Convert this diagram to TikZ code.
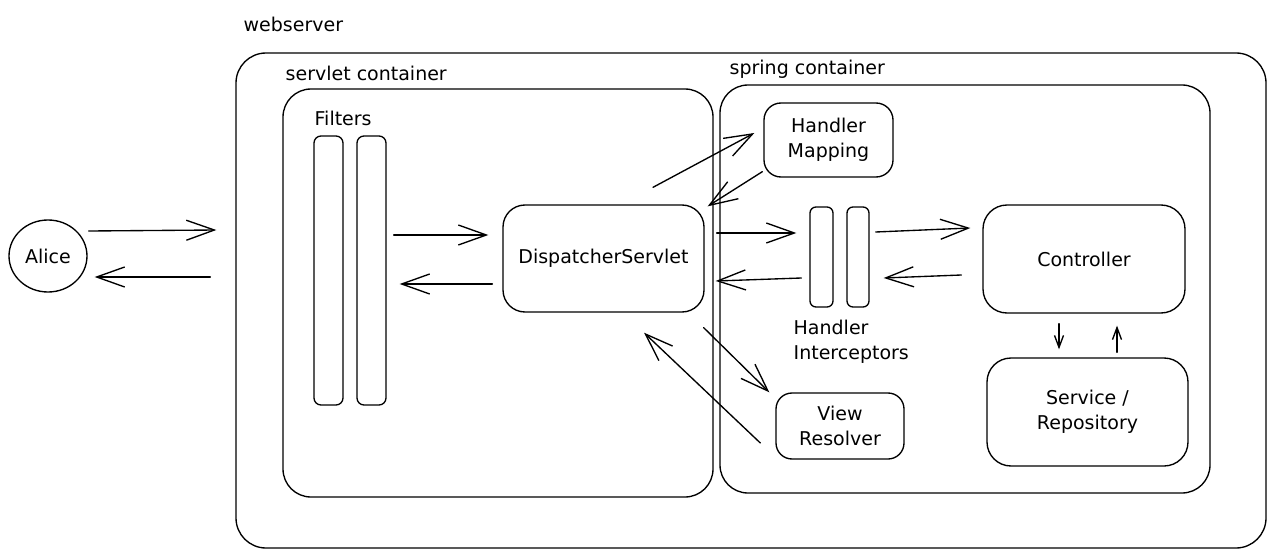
\documentclass[tikz,border=0pt]{standalone}
\usepackage{fontspec}
\setmainfont{DejaVu Sans}
\usetikzlibrary{arrows.meta,shapes.geometric}
\begin{document}
\begin{tikzpicture}[x=1pt,y=-1pt,
  line width=1.35pt, line cap=round, line join=round,
  box/.style={draw, rounded corners=#1pt, inner sep=0pt, font=\fontsize{19}{25}\selectfont, align=center},
  lbl/.style={font=\fontsize{19}{25}\selectfont, inner sep=0pt, align=left},
  arr/.style={-{Straight Barb[length=28pt,width=20pt]}},
  sarr/.style={-{Straight Barb[length=12pt,width=9pt]}}
]
\useasboundingbox (0,0) rectangle (1274,559);
% containers
\node[box=30, minimum width=1030pt, minimum height=495pt] (outer) at (751,300.5) {};
\node[box=28, minimum width=430pt, minimum height=408pt] (servlet) at (498,293) {};
\node[box=28, minimum width=490pt, minimum height=408pt] (spring) at (965,289) {};
% labels
\node[lbl, anchor=west] (tweb) at (243,24) {webserver};
\node[lbl, anchor=west] (tservlet) at (285,73) {servlet container};
\node[lbl, anchor=west] (tfilters) at (314,118) {Filters};
\node[lbl, anchor=west] (tspring) at (729,69) {spring container};
\node[lbl, anchor=west] (tint) at (793,342) {Handler\\Interceptors};
% filters
\node[box=7, minimum width=29pt, minimum height=269pt] (filter1) at (328.5,270.5) {};
\node[box=7, minimum width=29pt, minimum height=269pt] (filter2) at (371.5,270.5) {};
% boxes
\node[box=22, minimum width=201pt, minimum height=107pt] (disp) at (603.5,258.5) {DispatcherServlet};
\node[box=17, minimum width=129pt, minimum height=74pt] (hm) at (828.5,140) {Handler\\Mapping};
\node[box=6, minimum width=23pt, minimum height=100pt] (int1) at (821.5,257) {};
\node[box=6, minimum width=22pt, minimum height=100pt] (int2) at (858,257) {};
\node[box=24, minimum width=202pt, minimum height=108pt] (ctrl) at (1084,259) {Controller};
\node[box=24, minimum width=201pt, minimum height=108pt] (svc) at (1087.5,412) {Service /\\Repository};
\node[box=16, minimum width=128pt, minimum height=66pt] (vr) at (840,426) {View\\Resolver};
\node[draw, ellipse, minimum width=78pt, minimum height=72pt, inner sep=0pt, font=\fontsize{19}{25}\selectfont] (alice) at (48,256) {Alice};
% arrows
\draw[arr] ([shift={(1,-25)}]alice.east) -- ([shift={(-19,-70.5)}]outer.west);
\draw[arr] ([shift={(-25,-23.5)}]outer.west) -- ([shift={(7,21)}]alice.east);
\draw[arr] ([shift={(7,-35.5)}]filter2.east) -- ([shift={(-14,-23.5)}]disp.west);
\draw[arr] ([shift={(-10,25.5)}]disp.west) -- ([shift={(13,13.5)}]filter2.east);
\draw[arr] ([shift={(49.5,-17)}]disp.north) -- ([shift={(-9,-7)}]hm.west);
\draw[arr] ([shift={(-1,-6)}]hm.south west) -- ([shift={(3,2)}]disp.north east);
\draw[arr] ([shift={(12,-25.5)}]disp.east) -- ([shift={(-13,-24)}]int1.west);
\draw[arr] ([shift={(-8,21)}]int1.west) -- ([shift={(11,22.5)}]disp.east);
\draw[arr] ([shift={(6,-25)}]int2.east) -- ([shift={(-12,-31)}]ctrl.west);
\draw[arr] ([shift={(-21,16)}]ctrl.west) -- ([shift={(14,21)}]int2.east);
\draw[sarr] ([shift={(-25,10)}]ctrl.south) -- ([shift={(-28.5,-8)}]svc.north);
\draw[sarr] ([shift={(29.5,-5)}]svc.north) -- ([shift={(33,12)}]ctrl.south);
\draw[arr] ([shift={(-1,15)}]disp.south east) -- ([shift={(-6,0)}]vr.north west);
\draw[arr] ([shift={(-15,17)}]vr.west) -- ([shift={(40.5,20)}]disp.south);
\end{tikzpicture}
\end{document}
